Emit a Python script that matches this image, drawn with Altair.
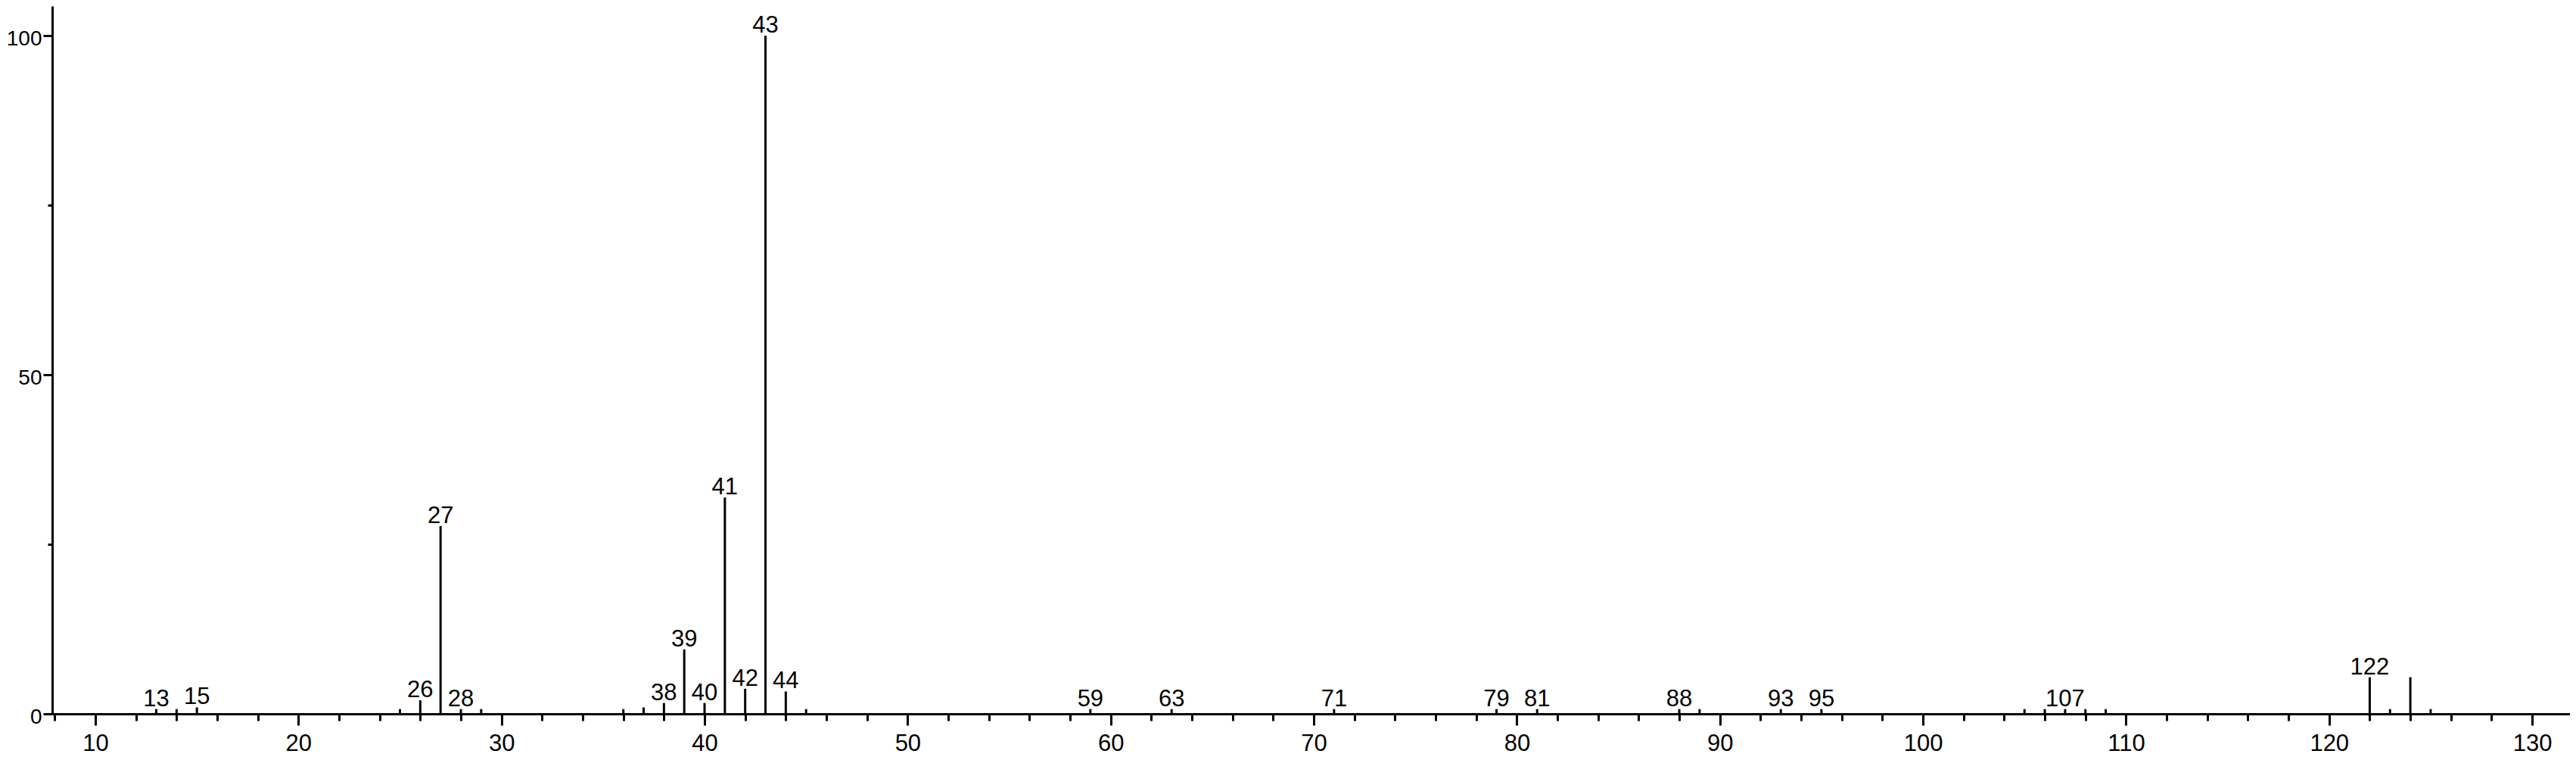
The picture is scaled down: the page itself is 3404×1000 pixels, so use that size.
import altair as alt
import pandas as pd

# m/z values and relative intensities
mz = [13, 14, 15, 25, 26, 27, 28, 29, 36, 37, 38, 39, 40, 41, 42, 43, 44, 45,
      59, 63, 71, 79, 81, 88, 89, 93, 95, 105, 106, 107, 108, 109,
      122, 123, 124, 125]
intensity = [0.7, 0.7, 0.95, 0.7, 2.0, 27.7, 0.7, 0.7, 0.7, 0.95, 1.6, 9.5, 1.6, 31.9, 3.7, 100.0, 3.3, 0.7,
             0.7, 0.7, 0.7, 0.7, 0.7, 0.7, 0.7, 0.7, 0.7, 0.7, 0.7, 0.7, 0.7, 0.7,
             5.4, 0.7, 5.4, 0.7]
labelled = [13, 15, 26, 27, 28, 38, 39, 40, 41, 42, 43, 44, 59, 63, 71, 79, 81,
            88, 93, 95, 107, 122]

x_ticks = list(range(8, 132, 2))      # major every 10 (labelled), minor every 2
y_ticks = [0, 25, 50, 75, 100]        # major every 50 (labelled), minor every 25

df = pd.DataFrame({"mz": mz, "intensity": intensity})
df["base"] = 0.0
df["label"] = [str(m) if m in labelled else "" for m in mz]

FONT = "Liberation Sans, Arial, sans-serif"
xscale = alt.Scale(domain=[7.876, 131.86], nice=False, zero=False)
yscale = alt.Scale(domain=[0, 104.38], nice=False, zero=False)

x_axis = alt.Axis(values=x_ticks, orient="bottom", title=None, grid=False,
                  tickSize={"condition": {"test": "datum.value % 10 === 0", "value": 15}, "value": 9},
                  tickWidth=3, tickColor="black",
                  domainWidth=3, domainColor="black",
                  labelExpr="datum.value % 10 === 0 ? datum.label : ''",
                  labelFont=FONT, labelFontSize=31, labelColor="black",
                  labelPadding=9, labelFlush=False, labelOverlap=False,
                  format="d")
y_axis = alt.Axis(values=y_ticks, orient="left", title=None, grid=False,
                  tickSize={"condition": {"test": "datum.value % 50 === 0", "value": 12}, "value": 6},
                  tickWidth=3, tickColor="black",
                  domainWidth=3, domainColor="black",
                  labelExpr="datum.value % 50 === 0 ? datum.label : ''",
                  labelFont=FONT, labelFontSize=28, labelColor="black",
                  labelPadding=2, labelOffset=4, labelFlush=False,
                  labelOverlap=False, format="d")

sticks = alt.Chart(df).mark_rule(color="black", strokeWidth=3).encode(
    x=alt.X("mz:Q", scale=xscale, axis=x_axis),
    y=alt.Y("intensity:Q", scale=yscale, axis=y_axis),
    y2=alt.Y2("base:Q"),
)

labels = alt.Chart(df).transform_filter(alt.datum.label != "").mark_text(
    baseline="alphabetic", align="center", dy=-4, font=FONT, fontSize=31, color="black"
).encode(
    x=alt.X("mz:Q", scale=xscale),
    y=alt.Y("intensity:Q", scale=yscale),
    text="label:N",
)

chart = alt.layer(sticks, labels).properties(
    width=3327, height=935,
    autosize=alt.AutoSizeParams(type="none"),
    padding={"left": 61, "top": 0, "right": 0, "bottom": 54},
    background="white",
).configure_view(stroke=None)

chart.save("out.html", embed_options={"renderer": "svg", "actions": False})
